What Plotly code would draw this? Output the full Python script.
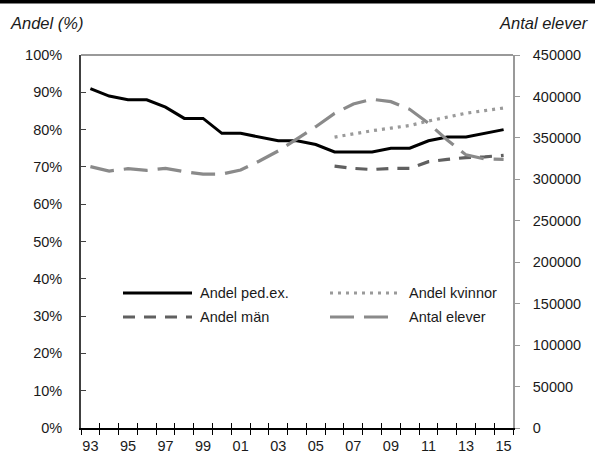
import plotly.graph_objects as go

years = ["93", "94", "95", "96", "97", "98", "99", "00", "01", "02", "03", "04",
         "05", "06", "07", "08", "09", "10", "11", "12", "13", "14", "15"]
year_ticktext = [y if i % 2 == 0 else "" for i, y in enumerate(years)]

andel_ped = [91, 89, 88, 88, 86, 83, 83, 79, 79, 78, 77, 77,
             76, 74, 74, 74, 75, 75, 77, 78, 78, 79, 80]
andel_kvinnor = [None] * 13 + [78, 78.9, 79.7, 80.4, 81.1, 82.3, 83.3, 84.4, 85.1, 85.8]
andel_man = [None] * 13 + [70.2, 69.6, 69.3, 69.6, 69.6, 71.4, 72.0, 72.5, 72.7, 73.1]
antal_elever = [315300, 310000, 312800, 310800, 313300, 309200, 306400, 306400,
                311200, 322100, 334200, 348500, 363500, 379600, 390900, 396600,
                393700, 384500, 367600, 347500, 329500, 324500, 324000]

left_ticks = list(range(0, 101, 10))
right_ticks = list(range(0, 450001, 50000))

FONT = "Liberation Sans, Arial, sans-serif"
TXT = "#1a1a1a"
FS = 14.5

names = ["Andel ped.ex.", "Andel kvinnor", "Andel män", "Antal elever"]
colors = ["#000000", "#9a9a9a", "#606060", "#8a8a8a"]
dashes = ["solid", "3px,5px", "12px,9px", "24px,10px"]

fig = go.Figure()
fig.add_trace(go.Scatter(x=years, y=andel_ped, name=names[0], mode="lines",
                         line=dict(color=colors[0], width=3, dash=dashes[0])))
fig.add_trace(go.Scatter(x=years, y=andel_kvinnor, name=names[1], mode="lines",
                         line=dict(color=colors[1], width=3.2, dash=dashes[1])))
fig.add_trace(go.Scatter(x=years, y=andel_man, name=names[2], mode="lines",
                         line=dict(color=colors[2], width=3.2, dash=dashes[2])))
fig.add_trace(go.Scatter(x=years, y=antal_elever, name=names[3], mode="lines",
                         xaxis="x2", yaxis="y2",
                         line=dict(color=colors[3], width=3.2, dash=dashes[3])))

fig.update_layout(
    width=595, height=457,
    margin=dict(l=81, r=82, t=55, b=29, autoexpand=False),
    paper_bgcolor="white", plot_bgcolor="white",
    showlegend=False,
    font=dict(family=FONT, size=FS, color=TXT),
    xaxis=dict(type="category", categoryorder="array", categoryarray=years,
               range=[-0.5, 22.5], tickmode="array", tickvals=years, ticktext=year_ticktext,
               tickson="boundaries", ticks="outside", ticklen=5, tickwidth=1.3,
               tickcolor="#000", showline=True, linecolor="#000", linewidth=1.5,
               showgrid=False, zeroline=False, tickfont=dict(size=FS, color=TXT),
               tickangle=0, automargin=False, ticklabelstandoff=4),
    xaxis2=dict(type="category", categoryorder="array", categoryarray=years,
                range=[-0.5, 22.5], tickmode="array", tickvals=years,
                ticktext=[""] * len(years), tickson="boundaries",
                overlaying="x", anchor="y2", side="bottom",
                ticks="inside", ticklen=5, tickwidth=1.3, tickcolor="#000",
                showline=False, showgrid=False, zeroline=False, showticklabels=False,
                automargin=False),
    yaxis=dict(range=[0, 100], tickmode="array", tickvals=left_ticks,
               ticktext=[f"{v}%" for v in left_ticks], ticks="inside", ticklen=5,
               tickcolor="#404040", tickwidth=1.3, showline=True, linecolor="#404040",
               linewidth=1.8, showgrid=False, zeroline=False, ticklabelstandoff=14,
               tickfont=dict(size=FS, color=TXT), automargin=False),
    yaxis2=dict(range=[0, 450000], overlaying="y", side="right", anchor="x",
                tickmode="array", tickvals=right_ticks,
                ticktext=[str(v) for v in right_ticks], ticks="outside", ticklen=5,
                tickcolor="#999999", tickwidth=1.3, showline=True, linecolor="#999999",
                linewidth=1.8, showgrid=False, zeroline=False, ticklabelstandoff=10,
                tickfont=dict(size=FS, color=TXT), automargin=False),
)

PX_TOP = 55.0
PX_H = 373.0


def py(px):
    """pixel row -> paper y"""
    return (PX_TOP + PX_H - px) / PX_H


shapes = []
# black bar at top of image
shapes.append(dict(type="rect", xref="paper", yref="paper", x0=-0.19, x1=1.19,
                   y0=py(3.5), y1=py(0), fillcolor="#000000",
                   line=dict(color="#000000", width=0), layer="above"))
# grey top border of plot area
shapes.append(dict(type="line", xref="paper", yref="paper", x0=0, x1=1, y0=1, y1=1,
                   line=dict(color="#999999", width=1.8)))

# manual legend
leg_rows = [py(293), py(317)]
leg_cols = [((123 - 81) / 432, (192 - 81) / 432, (198 - 81) / 432),
            ((330 - 81) / 432, (398 - 81) / 432, (407 - 81) / 432)]
leg_pos = [(0, 0), (0, 1), (1, 0), (1, 1)]  # (row, col) for each series
annotations = []
for i, (r, c) in enumerate(leg_pos):
    x0, x1, xt = leg_cols[c]
    y = leg_rows[r]
    shapes.append(dict(type="line", xref="paper", yref="paper", x0=x0, x1=x1, y0=y, y1=y,
                       line=dict(color=colors[i], width=3.2 if i else 3, dash=dashes[i])))
    annotations.append(dict(text=names[i], xref="paper", yref="paper", x=xt, y=y,
                            xanchor="left", yanchor="middle", showarrow=False,
                            font=dict(size=FS, color=TXT)))

annotations.append(dict(text="<i>Andel (%)</i>", xref="paper", yref="paper",
                        x=(8 - 81) / 432, y=py(23), xanchor="left",
                        yanchor="middle", showarrow=False, font=dict(size=16.5, color=TXT)))
annotations.append(dict(text="<i>Antal elever</i>", xref="paper", yref="paper",
                        x=(591 - 81) / 432, y=py(23), xanchor="right",
                        yanchor="middle", showarrow=False, font=dict(size=16.5, color=TXT)))

fig.update_layout(shapes=shapes, annotations=annotations)
fig.write_html("out.html", config={"displayModeBar": False},
               post_script="document.body.style.margin='0';")
